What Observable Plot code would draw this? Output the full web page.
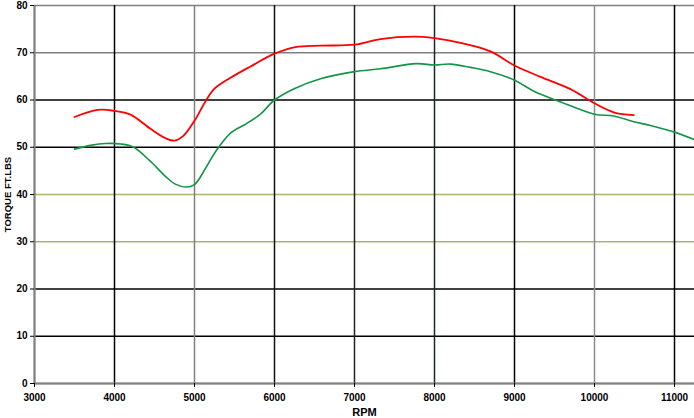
<!DOCTYPE html>
<html><head><meta charset="utf-8">
<script src="https://cdn.jsdelivr.net/npm/d3@7"></script>
<script src="https://cdn.jsdelivr.net/npm/@observablehq/plot@0.6"></script>
<style>body{margin:0;background:#fff}svg{display:block}</style>
</head><body><div id="chart"></div>
<script>
const redRpm = [3500,3790,4000,4200,4450,4640,4750,4860,5000,5140,5250,5450,5700,6000,6260,6575,7000,7325,7750,8000,8325,8700,9000,9325,9700,10000,10240,10490];
const redTq  = [56.4,57.9,57.7,56.9,53.9,51.9,51.4,52.4,55.6,59.8,62.4,64.7,67.1,69.8,71.2,71.5,71.7,72.9,73.4,73.1,72.1,70.3,67.3,64.9,62.3,59.3,57.4,56.8];
const greenRpm = [3500,3700,3890,4075,4240,4450,4640,4760,4890,5000,5140,5260,5450,5640,5825,6000,6260,6575,7000,7325,7775,8000,8200,8450,8700,9000,9250,9575,10000,10240,10490,10700,11000,11250];
const greenTq  = [49.6,50.4,50.8,50.7,50.0,47.0,43.8,42.2,41.6,42.1,45.6,49.0,53.0,54.9,57.0,60.0,62.5,64.5,66.0,66.6,67.7,67.4,67.6,66.9,66.0,64.2,61.8,59.6,57.0,56.6,55.4,54.6,53.2,51.6];
const xTicks = [3000,4000,5000,6000,7000,8000,9000,10000,11000];
const xGridColors = ["#808080","#000000","#808080","#111111","#222222","#1a2a22","#000000","#8a8a96","#000000"];
const yTicks = [0,10,20,30,40,50,60,70,80];
const yGridColors = ["#808080","#000000","#000000","#b0b070","#b0b070","#000000","#000000","#808080","#808080"];

const red = redRpm.map((x,i)=>({x, y: redTq[i]}));
const green = greenRpm.map((x,i)=>({x, y: greenTq[i]}));
const xg = xTicks.map((x,i)=>({x, c: xGridColors[i]}));
const yg = yTicks.map((y,i)=>({y, c: yGridColors[i]}));

const chart = Plot.plot({
  width: 694, height: 418,
  marginLeft: 34, marginRight: 0, marginTop: 5, marginBottom: 35,
  style: {fontFamily: "Arial, 'Liberation Sans', sans-serif", fontSize: "10px", fontWeight: "bold", color: "#000", background: "#fff"},
  x: {domain: [3000, 11250]},
  y: {domain: [0, 80]},
  marks: [
    Plot.ruleY(yg, {y: "y", stroke: "c", strokeWidth: 1.5}),
    Plot.ruleX(xg, {x: "x", stroke: "c", strokeWidth: 1.5}),
    Plot.line(green, {x: "x", y: "y", stroke: "#139447", strokeWidth: 1.6, curve: "catmull-rom"}),
    Plot.line(red, {x: "x", y: "y", stroke: "#ff0000", strokeWidth: 1.8, curve: "catmull-rom"}),
    Plot.ruleX([3000], {stroke: "#808080", strokeWidth: 2}),
    Plot.ruleY([0], {stroke: "#808080", strokeWidth: 2}),
    Plot.axisY({ticks: yTicks, tickSize: 4, tickPadding: 3, label: null, fontSize: 10, fontWeight: "bold", stroke: "#000"}),
    Plot.axisX({ticks: xTicks, tickSize: 4, tickPadding: 6, label: null, tickFormat: d => String(d), fontSize: 10, fontWeight: "bold"}),
    Plot.text(["RPM"], {frameAnchor: "bottom", dy: 32, fontSize: 11, fontWeight: "bold"}),
    Plot.text(["TORQUE FT.LBS"], {frameAnchor: "left", textAnchor: "middle", dx: -27, rotate: -90, fontSize: 9.5, fontWeight: "bold"})
  ]
});
document.getElementById("chart").append(chart);
</script>
</body></html>
